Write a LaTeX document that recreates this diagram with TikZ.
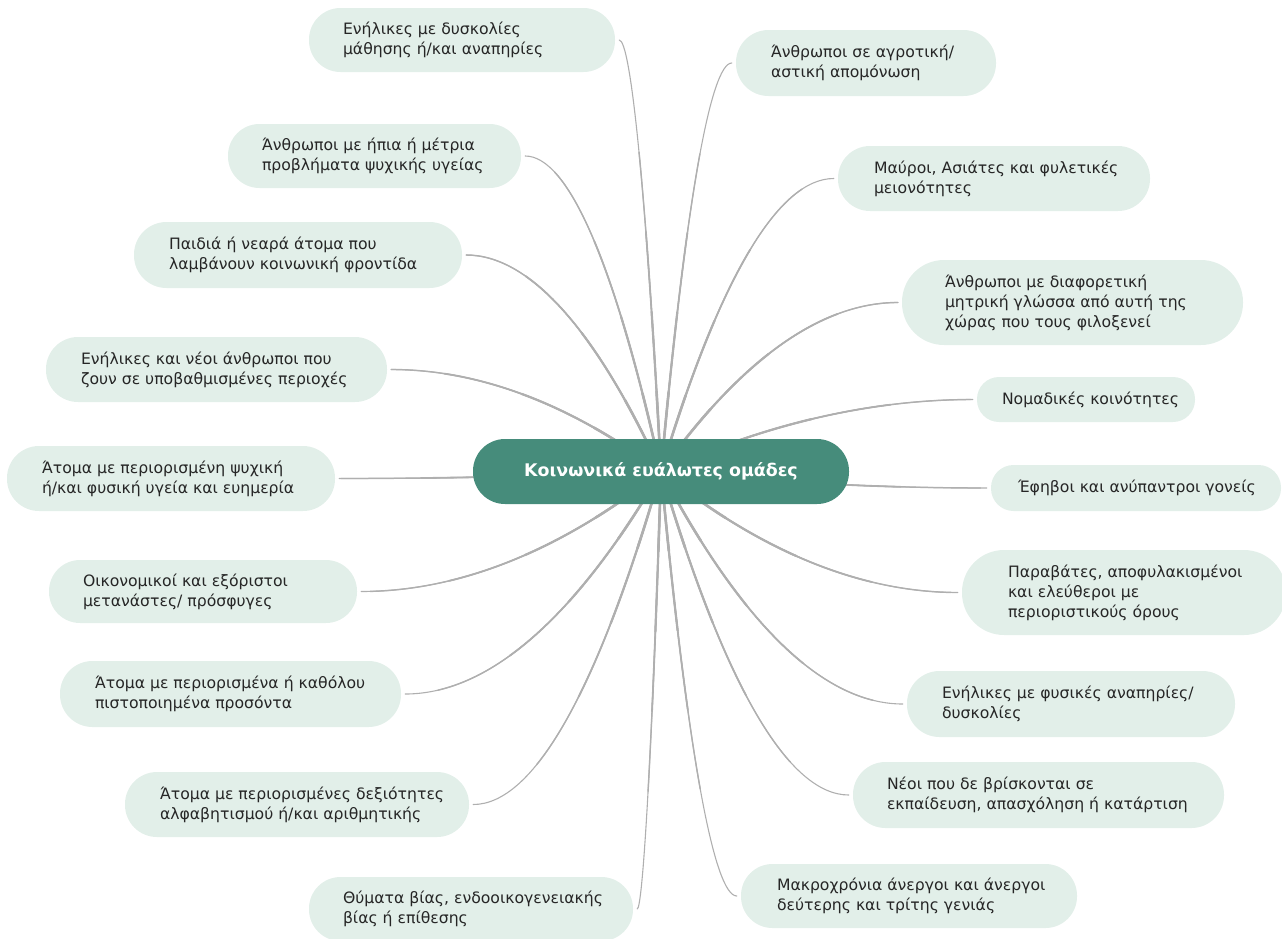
\documentclass[tikz,border=0pt]{standalone}
\usepackage{fontspec}
\setmainfont{DejaVu Sans}
\usetikzlibrary{calc,backgrounds}
\definecolor{leaffill}{HTML}{E2EFE9}
\definecolor{hubfill}{HTML}{468C7B}
\definecolor{txtcol}{HTML}{262626}
\definecolor{linecol}{HTML}{AFAFAF}
\tikzset{
  leafbox/.style={fill=leaffill, draw=none, inner sep=0pt},
  leaftext/.style={text=txtcol, align=left, inner sep=0pt, font=\fontsize{15.65}{20}\selectfont},
  hubbox/.style={fill=hubfill, draw=none, text=white, inner sep=0pt, font=\bfseries\fontsize{17.4}{20}\selectfont},
  connline/.style={draw=linecol, line cap=round},
}
\newcommand\leaf[7]{%
  \pgfmathsetmacro\leafw{#4-#2}%
  \pgfmathsetmacro\leafh{#5-#3}%
  \pgfmathsetmacro\leafx{(#2+#4)/2}%
  \pgfmathsetmacro\leafy{(#3+#5)/2}%
  \pgfmathsetmacro\leafr{\leafh/2-0.5}%
  \node[leafbox, minimum width=\leafw pt, minimum height=\leafh pt, rounded corners=\leafr pt] (#1) at (\leafx,\leafy) {};
  \node[leaftext, anchor=west] (#1t) at ([xshift=#6pt]#1.west) {#7};
}
\newcommand\linkto[2]{%
  \coordinate (cm) at ($(hub.center)!0.5!(#1.#2)$);
  \coordinate (cp) at (cm |- #1.#2);
  \coordinate (cqa) at ($(hub.center)!0.6667!(cp)$);
  \coordinate (cqb) at ($(#1.#2)!0.6667!(cp)$);
  \foreach \segw/\segl in {2.6/80,2.2/160,1.8/240,1.4/320}{%
    \draw[connline, line width=\segw pt, dash pattern=on \segl pt off 5000pt, shorten >=4pt] (hub.center) .. controls (cqa) and (cqb) .. (#1.#2);
  }
  \draw[connline, line width=1.1pt, shorten >=4pt] (hub.center) .. controls (cqa) and (cqb) .. (#1.#2);
}
\begin{document}
\begin{tikzpicture}[x=1pt, y=-1pt]
\useasboundingbox (0,0) rectangle (1282,938);

\leaf{L1}{309}{8}{615}{72}{34}{Ενήλικες με δυσκολίες\\μάθησης ή/και αναπηρίες}
\leaf{L2}{228}{124}{521}{188}{34}{Άνθρωποι με ήπια ή μέτρια\\προβλήματα ψυχικής υγείας}
\leaf{L3}{134}{222}{462}{288}{35}{Παιδιά ή νεαρά άτομα που\\λαμβάνουν κοινωνική φροντίδα}
\leaf{L4}{46}{337}{387}{402}{35}{Ενήλικες και νέοι άνθρωποι που\\ζουν σε υποβαθμισμένες περιοχές}
\leaf{L5}{7}{446}{335}{511}{35}{Άτομα με περιορισμένη ψυχική\\ή/και φυσική υγεία και ευημερία}
\leaf{L6}{49}{560}{357}{623}{34}{Οικονομικοί και εξόριστοι\\μετανάστες/ πρόσφυγες}
\leaf{L7}{60}{661}{401}{727}{35}{Άτομα με περιορισμένα ή καθόλου\\πιστοποιημένα προσόντα}
\leaf{L8}{125}{772}{469}{837}{35}{Άτομα με περιορισμένες δεξιότητες\\αλφαβητισμού ή/και αριθμητικής}
\leaf{L9}{309}{877}{633}{941}{34}{Θύματα βίας, ενδοοικογενειακής\\βίας ή επίθεσης}

\leaf{R1}{736}{30}{996}{96}{35}{Άνθρωποι σε αγροτική/\\αστική απομόνωση}
\leaf{R2}{838}{146}{1150}{211}{36}{Μαύροι, Ασιάτες και φυλετικές\\μειονότητες}
\leaf{R3}{902}{260}{1243}{345}{43}{Άνθρωποι με διαφορετική\\μητρική γλώσσα από αυτή της\\χώρας που τους φιλοξενεί}
\leaf{R4}{977}{377}{1195}{422}{25}{Νομαδικές κοινότητες}
\leaf{R5}{991}{465}{1281}{511}{27}{Έφηβοι και ανύπαντροι γονείς}
\leaf{R6}{962}{550}{1286}{635}{46}{Παραβάτες, αποφυλακισμένοι\\και ελεύθεροι με\\περιοριστικούς όρους}
\leaf{R7}{907}{671}{1235}{737}{35}{Ενήλικες με φυσικές αναπηρίες/\\δυσκολίες}
\leaf{R8}{853}{762}{1224}{828}{34}{Νέοι που δε βρίσκονται σε\\εκπαίδευση, απασχόληση ή κατάρτιση}
\leaf{R9}{741}{864}{1077}{928}{36}{Μακροχρόνια άνεργοι και άνεργοι\\δεύτερης και τρίτης γενιάς}

\node[hubbox, minimum width=376pt, minimum height=65pt, rounded corners=32pt] (hub) at (661,471.5) {Κοινωνικά ευάλωτες ομάδες};

\begin{pgfonlayer}{background}
\foreach \nm in {L1,L2,L3,L4,L5,L6,L7,L8,L9}{\linkto{\nm}{east}}
\foreach \nm in {R1,R2,R3,R4,R5,R6,R7,R8,R9}{\linkto{\nm}{west}}
\end{pgfonlayer}
\end{tikzpicture}
\end{document}
